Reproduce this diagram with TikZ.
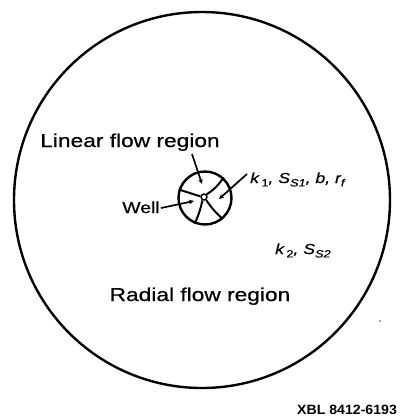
\documentclass[tikz,border=0pt]{standalone}
\usepackage{fontspec}
\setmainfont{Liberation Sans}[FakeStretch=1.22, FakeBold=0.6]
\newfontfamily\xblfont{Liberation Sans}[FakeStretch=1.05]
\usetikzlibrary{arrows.meta}
\newcommand{\lowsub}[1]{\raisebox{-0.45ex}{\fontsize{10.5}{11}\selectfont #1}}
\begin{document}
\begin{tikzpicture}[x=1bp,y=-1bp,
  lbl/.style={inner sep=0pt, font=\fontsize{18.7}{20}\selectfont},
  plbl/.style={inner sep=0pt, font=\fontsize{14.5}{16}\selectfont\itshape},
  spoke/.style={line width=2bp},
  ptr/.style={line width=1.7bp, -{Stealth[length=5bp,width=4.5bp]}},
  rim/.style={line width=2.4bp}]
\useasboundingbox (0,0) rectangle (400,419);
% outer boundary
\node[rim, draw, circle, minimum size=376bp, inner sep=0pt] (outer) at (202,200) {};
% well region
\node[rim, draw, circle, minimum size=53bp, inner sep=0pt] (zone) at (205,198) {};
\node[draw, circle, line width=1.4bp, minimum size=6bp, inner sep=0pt] (well) at (204,197) {};
\draw[spoke] (well.45) to[bend right=12] (zone.48);
\draw[spoke] (well.170) -- (zone.162);
\draw[spoke] (well.245) to[bend left=6] (zone.248);
\draw[spoke] (well.305) to[bend right=6] (zone.310);
% labels
\node[lbl, anchor=base] (lin) at (130,147) {Linear flow region};
\node[lbl, anchor=base] (rad) at (200,301) {Radial flow region};
\node[inner sep=0pt, font=\fontsize{16}{18}\selectfont, anchor=base] (welltxt) at (141,213) {Well};
\node[plbl, anchor=base west] (p1) at (250,183) {k\,\lowsub{\upshape 1}, S\lowsub{S1}, b, r\lowsub{f}};
\node[plbl, anchor=base west] (p2) at (275,254) {k\,\lowsub{\upshape 2}, S\lowsub{S2}};
\node[inner sep=0pt, font=\xblfont\bfseries\fontsize{13.5}{15}\selectfont, anchor=base west] (xbl) at (297,414) {XBL 8412-6193};
% pointers
\coordinate (linS) at (192,154);
\coordinate (linE) at (202,184);
\coordinate (wellS) at (161,208);
\coordinate (wellE) at (194,201);
\coordinate (pS) at (247,174);
\coordinate (pE) at (219,199);
\draw[ptr] (linS) -- (linE);
\draw[ptr] (wellS) -- (wellE);
\draw[ptr] (pS) -- (pE);
% speck
\node[circle, fill=black!40, inner sep=0pt, minimum size=2.5bp] (speck) at (380,321) {};
\end{tikzpicture}
\end{document}
